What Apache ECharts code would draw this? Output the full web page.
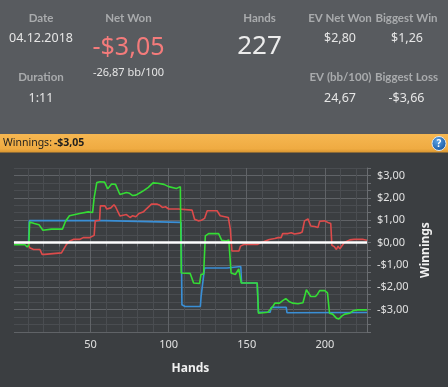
<!DOCTYPE html>
<html>
<head>
<meta charset="utf-8">
<script src="https://cdn.jsdelivr.net/npm/echarts@6/dist/echarts.min.js"></script>
<style>
html,body{margin:0;padding:0;background:#3b3e41;}
#c{width:448px;height:387px;}
</style>
</head>
<body>
<div id="c"></div>
<script>
// ---- data ----
const greenHands = [1,8,9.5,10.5,11,14,17,19.5,25,32,34,36.5,43,48.5,51.3,52.3,54,56,59,61,63.5,66,68.8,70,73,75,77,79,82,84,87,90,93,97,100,105,107.5,108.1,113.8,116,119.8,120.7,122.4,123.5,125.6,132,134,137,138.5,139.5,140,142.7,144.9,146,146.5,156.7,157.5,163.5,166.7,168,171,173,175,177.4,179.5,182.8,186,188.2,189.2,191,194,195.3,196.7,200,201.7,203,205,207.4,208,209,211,212.8,216,218,221,227];
const greenValues = [-0.1,-0.1,-0.2,-0.1,0.92,0.85,0.8,0.55,0.6,0.6,0.95,1.2,1.3,1.37,1.34,2.0,2.68,2.72,2.7,2.4,2.62,2.6,2.15,2.1,2.24,2.2,2.1,2.12,2.24,2.32,2.47,2.67,2.65,2.6,2.5,2.42,2.5,-1.36,-1.38,-1.81,-1.83,-1.43,-1.4,0.3,0.4,0.4,0.1,0.07,0.12,0.05,-1.36,-1.43,-1.18,-1.2,-1.81,-1.81,-3.16,-3.12,-2.86,-2.71,-2.71,-2.6,-2.51,-2.65,-2.71,-2.74,-2.69,-2.11,-2.04,-2.41,-2.41,-2.31,-2.15,-2.15,-2.25,-3.16,-3.2,-3.38,-3.3,-3.42,-3.28,-3.2,-3.16,-3.05,-3.01,-3.01];

const blueHands = [1,10.3,10.8,59,60,108,108.5,110.5,120.3,120.8,122,123,137.4,138,146.2,146.7,156.7,157.5,165,165.7,175.3,175.8,227];
const blueValues = [0,0,0.98,0.98,0.9,0.9,-2.78,-2.86,-2.86,-2.4,-2.38,-1.14,-1.14,-1.07,-1.07,-1.81,-1.81,-3.12,-3.12,-2.9,-2.9,-3.14,-3.13];

const redHands = [1,9.9,11,13.5,17.6,19,20.6,21.7,31.4,32.4,34.6,36.7,39,43,45.3,49.5,50.6,52.3,53,55.8,56.3,59.2,60.4,63,65,66,68.8,70,73,75.3,77,79,81,84,86,89,92.4,94,96,98,100,106.3,107.4,115,115.6,116.6,119,121,123,124.7,131,133,138.2,139.5,140.5,145,146,148.5,157,159,164.5,168,170,172,173,176.4,178.5,180.6,183.9,185.5,187,189.2,191,193.5,195.6,196.7,200,202,203.8,204.5,206,207.4,208.5,209.6,210.7,212.5,216,218.8,224.6,227];
const redValues = [0,0,-0.23,-0.31,-0.31,-0.53,-0.53,-0.46,-0.46,-0.38,-0.08,0.07,0.14,0.14,0.22,0.22,0.29,0.32,0.97,1.0,1.64,1.64,1.5,1.55,1.69,1.6,1.19,1.27,1.25,1.12,1.2,1.15,1.3,1.38,1.52,1.72,1.72,1.68,1.57,1.6,1.5,1.5,1.45,1.45,1.5,1.04,0.97,1.0,1.08,1.42,1.42,1.2,1.12,0.6,-0.38,-0.38,-0.16,-0.08,-0.08,-0.01,0.14,0.18,0.22,0.22,0.4,0.4,0.44,0.38,0.42,0.47,0.97,1.06,0.74,0.72,0.67,0.95,0.97,0.9,0.85,-0.12,-0.18,-0.31,-0.16,-0.28,-0.2,0.0,0.12,0.14,0.14,0.1];

const xTickValues = [10,20,30,40,50,60,70,80,90,100,110,120,130,140,150,160,170,180,190,200,210,220];
const xLabelValues = [50,100,150,200];

const headerLabels = [
  {t:'Date', x:41, y:18}, {t:'Duration', x:41, y:77},
  {t:'Net Won', x:128.5, y:18}, {t:'Hands', x:259.5, y:18},
  {t:'EV Net Won', x:340, y:18}, {t:'Biggest Win', x:406.5, y:18},
  {t:'EV (bb/100)', x:340.5, y:77}, {t:'Biggest Loss', x:406.5, y:77}
];
const headerValues = [
  {t:'04.12.2018', x:41, y:38.5}, {t:'1:11', x:41, y:98},
  {t:'$2,80', x:340, y:38.5},
  {t:'$1,26', x:407, y:38.5}, {t:'24,67', x:340, y:98}, {t:'-$3,66', x:406.5, y:98}
];

function pairs(xs, ys){ return xs.map((x,i)=>[x, ys[i]]); }

const FONT = '"Noto Sans", "Open Sans", sans-serif';
const LFONT = 'Lato, "Noto Sans", sans-serif';
const minorC = '#4a4d51', majorC = '#606367';
const C = {textAlign:'center', align:'center', textVerticalAlign:'middle', verticalAlign:'middle'};

const graphics = [
  {type:'rect', shape:{x:0,y:0,width:448,height:134}, style:{fill:'#585b5f'}, silent:true},
  {type:'rect', shape:{x:0,y:134,width:448,height:18.5}, silent:true,
    style:{fill:{type:'linear',x:0,y:0,x2:0,y2:1,colorStops:[{offset:0,color:'#f6b751'},{offset:0.8,color:'#efab42'},{offset:1,color:'#d8952f'}]}}},
  {type:'text', x:3, y:143.5, silent:true, style:{text:'Winnings:', fill:'#1e1e1e', font:'10.5px '+FONT, textVerticalAlign:'middle', verticalAlign:'middle'}},
  {type:'text', x:54, y:143.5, silent:true, style:{text:'-$3,05', fill:'#1e1e1e', font:'bold 10.5px '+FONT, textVerticalAlign:'middle', verticalAlign:'middle'}},
  {type:'circle', shape:{cx:439,cy:143.5,r:7}, silent:true,
    style:{fill:{type:'radial',x:0.4,y:0.35,r:0.7,colorStops:[{offset:0,color:'#5aa3e6'},{offset:1,color:'#15539c'}]}, stroke:'#dfe8f0', lineWidth:1}},
  {type:'text', x:439, y:144, silent:true, style:Object.assign({text:'?', fill:'#ffffff', font:'bold 10px '+FONT}, C)},
  {type:'text', x:128.5, y:48, silent:true, style:Object.assign({text:'-$3,05', fill:'#f47b7b', font:'25px '+FONT}, C)},
  {type:'text', x:128.5, y:73, silent:true, style:Object.assign({text:'-26,87 bb/100', fill:'#e6e6e6', font:'11px '+FONT}, C)},
  {type:'text', x:259.5, y:47, silent:true, style:Object.assign({text:'227', fill:'#ececec', font:'26px '+FONT}, C)}
];
headerLabels.forEach(l => graphics.push({type:'text', x:l.x, y:l.y, silent:true,
  style:Object.assign({text:l.t, fill:'#a9abad', font:'bold 11.5px '+LFONT}, C)}));
headerValues.forEach(l => graphics.push({type:'text', x:l.x, y:l.y, silent:true,
  style:Object.assign({text:l.t, fill:'#e6e6e6', font:'12.5px '+FONT}, C)}));

const chart = echarts.init(document.getElementById('c'), null, {renderer:'canvas'});
chart.setOption({
  backgroundColor:'#3b3e41',
  animation:false,
  graphic: graphics,
  grid:{left:14, top:168, right:81, bottom:55, containLabel:false},
  xAxis:{
    type:'value', min:1, max:227,
    name:'Hands', nameLocation:'middle', nameGap:31,
    nameTextStyle:{color:'#f0f0f0', fontWeight:'bold', fontSize:12, fontFamily:FONT},
    axisLine:{show:true, lineStyle:{color:'#6a6d71', width:1}},
    axisTick:{show:true, customValues:xTickValues, length:4, lineStyle:{color:'#6a6d71'}},
    axisLabel:{customValues:xLabelValues, color:'#e0e0e0', fontSize:11, fontFamily:FONT, margin:7},
    splitLine:{show:true, lineStyle:{color:[minorC,minorC,minorC,minorC,majorC], width:1}}
  },
  yAxis:{
    type:'value', position:'right', min:-4, max:10/3, interval:1/3,
    name:'Winnings', nameLocation:'middle', nameGap:48, nameRotate:90,
    nameTextStyle:{color:'#f0f0f0', fontWeight:'bold', fontSize:12, fontFamily:FONT},
    axisLine:{show:true, lineStyle:{color:'#6a6d71', width:1}},
    axisTick:{show:true, length:4, lineStyle:{color:'#6a6d71'}},
    axisLabel:{color:'#e0e0e0', fontSize:11, fontFamily:FONT, margin:10,
      formatter:function(v){
        const r = Math.round(v);
        if (Math.abs(v - r) > 1e-6 || r < -3 || r > 3) return '';
        return (r < 0 ? '-$' : '$') + Math.abs(r) + ',00';
      }},
    splitLine:{show:true, lineStyle:{color:[majorC,minorC,minorC], width:1}}
  },
  series:[
    {name:'blue', type:'line', data:pairs(blueHands, blueValues), symbol:'none', z:2,
      lineStyle:{color:'#3a8fd6', width:1.6}, itemStyle:{color:'#3a8fd6'}},
    {name:'red', type:'line', data:pairs(redHands, redValues), symbol:'none', z:3,
      lineStyle:{color:'#dc4b4b', width:1.6}, itemStyle:{color:'#dc4b4b'}},
    {name:'green', type:'line', data:pairs(greenHands, greenValues), symbol:'none', z:4,
      lineStyle:{color:'#35dc35', width:1.6}, itemStyle:{color:'#35dc35'}},
    {name:'zero', type:'line', data:[[1,0],[227,0]], symbol:'none', z:6, silent:true,
      lineStyle:{color:'#ffffff', width:2.5}}
  ]
});
</script>
</body>
</html>
